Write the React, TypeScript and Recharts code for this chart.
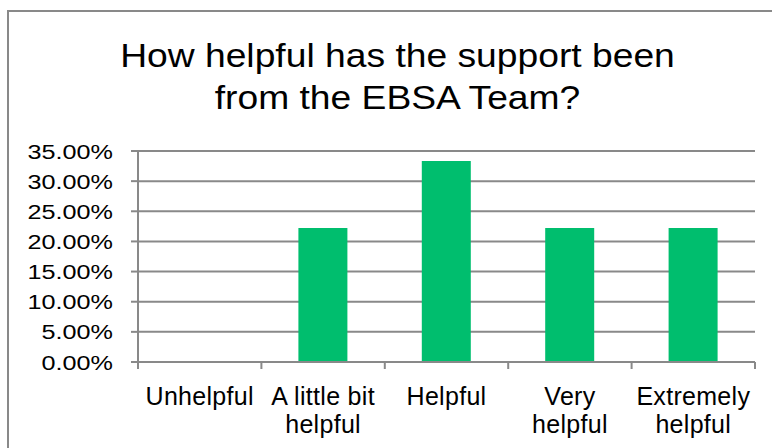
import { BarChart, Bar, XAxis, YAxis, CartesianGrid } from 'recharts';

const categories = ['Unhelpful', 'A little bit helpful', 'Helpful', 'Very helpful', 'Extremely helpful'];
const shares = [0, 0.2222, 0.3333, 0.2222, 0.2222];
const yTicks = [0, 0.05, 0.1, 0.15, 0.2, 0.25, 0.3, 0.35];
const titleLines = ['How helpful has the support been', 'from the EBSA Team?'];

const data = categories.map((name, i) => ({ name, share: shares[i] }));

const W = 772;
const H = 448;
const GRAY = '#898989';
const GREEN = '#00BE6E';
const FONT = '"Liberation Sans", Arial, sans-serif';
const margin = { top: 151, right: 17, bottom: 0, left: 0 };
const Y_AXIS_W = 138;
const X_AXIS_H = 86;
const bandWidth = (W - margin.left - margin.right - Y_AXIS_W) / categories.length;

const XTick = (props: any) => {
    const { x, y, payload, index } = props;
    const words = String(payload.value).split(' ');
    const lines = words.length > 1 ? [words.slice(0, -1).join(' '), words[words.length - 1]] : [payload.value];
    const left = x - bandWidth / 2;
    return (
        <g>
            <line x1={left} y1={y} x2={left} y2={y + 7} stroke={GRAY} strokeWidth={2} />
            {index === categories.length - 1 && (
                <line x1={x + bandWidth / 2} y1={y} x2={x + bandWidth / 2} y2={y + 7} stroke={GRAY} strokeWidth={2} />
            )}
            <text x={x} y={y + 43} textAnchor="middle" fill="#000" fontSize={25} fontFamily={FONT} style={{ letterSpacing: 0.3 }}>
                {lines.map((l, i) => (
                    <tspan key={i} x={x} dy={i === 0 ? 0 : 28}>{l}</tspan>
                ))}
            </text>
        </g>
    );
};

// excel stretched the glyphs sideways, so scale the text instead of spacing it
const YTick = (props: any) => {
    const { x, y, payload } = props;
    return (
        <text
            transform={`translate(${x},${y + 7.5}) scale(1.2,1)`}
            textAnchor="end"
            fill="#000"
            fontSize={21}
            fontFamily={FONT}
        >
            {(payload.value * 100).toFixed(2)}%
        </text>
    );
};

export default function App() {
    return (
        <div style={{ position: 'relative', width: W, height: H, overflow: 'hidden', background: '#fff' }}>
            <style>{'body{margin:0}'}</style>
            <div
                style={{
                    position: 'absolute',
                    left: 7,
                    top: 10,
                    width: 820,
                    height: 500,
                    borderLeft: `2px solid ${GRAY}`,
                    borderTop: `2px solid ${GRAY}`,
                }}
            />
            <div
                style={{
                    position: 'absolute',
                    left: 0,
                    top: 34,
                    width: 795,
                    textAlign: 'center',
                    fontFamily: FONT,
                    fontSize: 34,
                    lineHeight: '42px',
                    color: '#000',
                    transform: 'scaleX(1.095)',
                }}
            >
                {titleLines.map((t) => (
                    <div key={t}>{t}</div>
                ))}
            </div>
            <div style={{ position: 'absolute', left: 0, top: 0 }}>
                <BarChart width={W} height={H} data={data} margin={margin}>
                    <CartesianGrid vertical={false} stroke={GRAY} strokeWidth={2} />
                    <XAxis
                        dataKey="name"
                        interval={0}
                        height={X_AXIS_H}
                        axisLine={{ stroke: GRAY, strokeWidth: 2 }}
                        tickLine={false}
                        tickSize={0}
                        tickMargin={0}
                        tick={<XTick />}
                    />
                    <YAxis
                        width={Y_AXIS_W}
                        domain={[0, 0.35]}
                        ticks={yTicks}
                        interval={0}
                        axisLine={{ stroke: GRAY, strokeWidth: 2 }}
                        tickLine={{ stroke: GRAY, strokeWidth: 2 }}
                        tickSize={7}
                        tickMargin={18}
                        tick={<YTick />}
                    />
                    <Bar dataKey="share" fill={GREEN} barSize={49} isAnimationActive={false} />
                </BarChart>
            </div>
        </div>
    );
}
